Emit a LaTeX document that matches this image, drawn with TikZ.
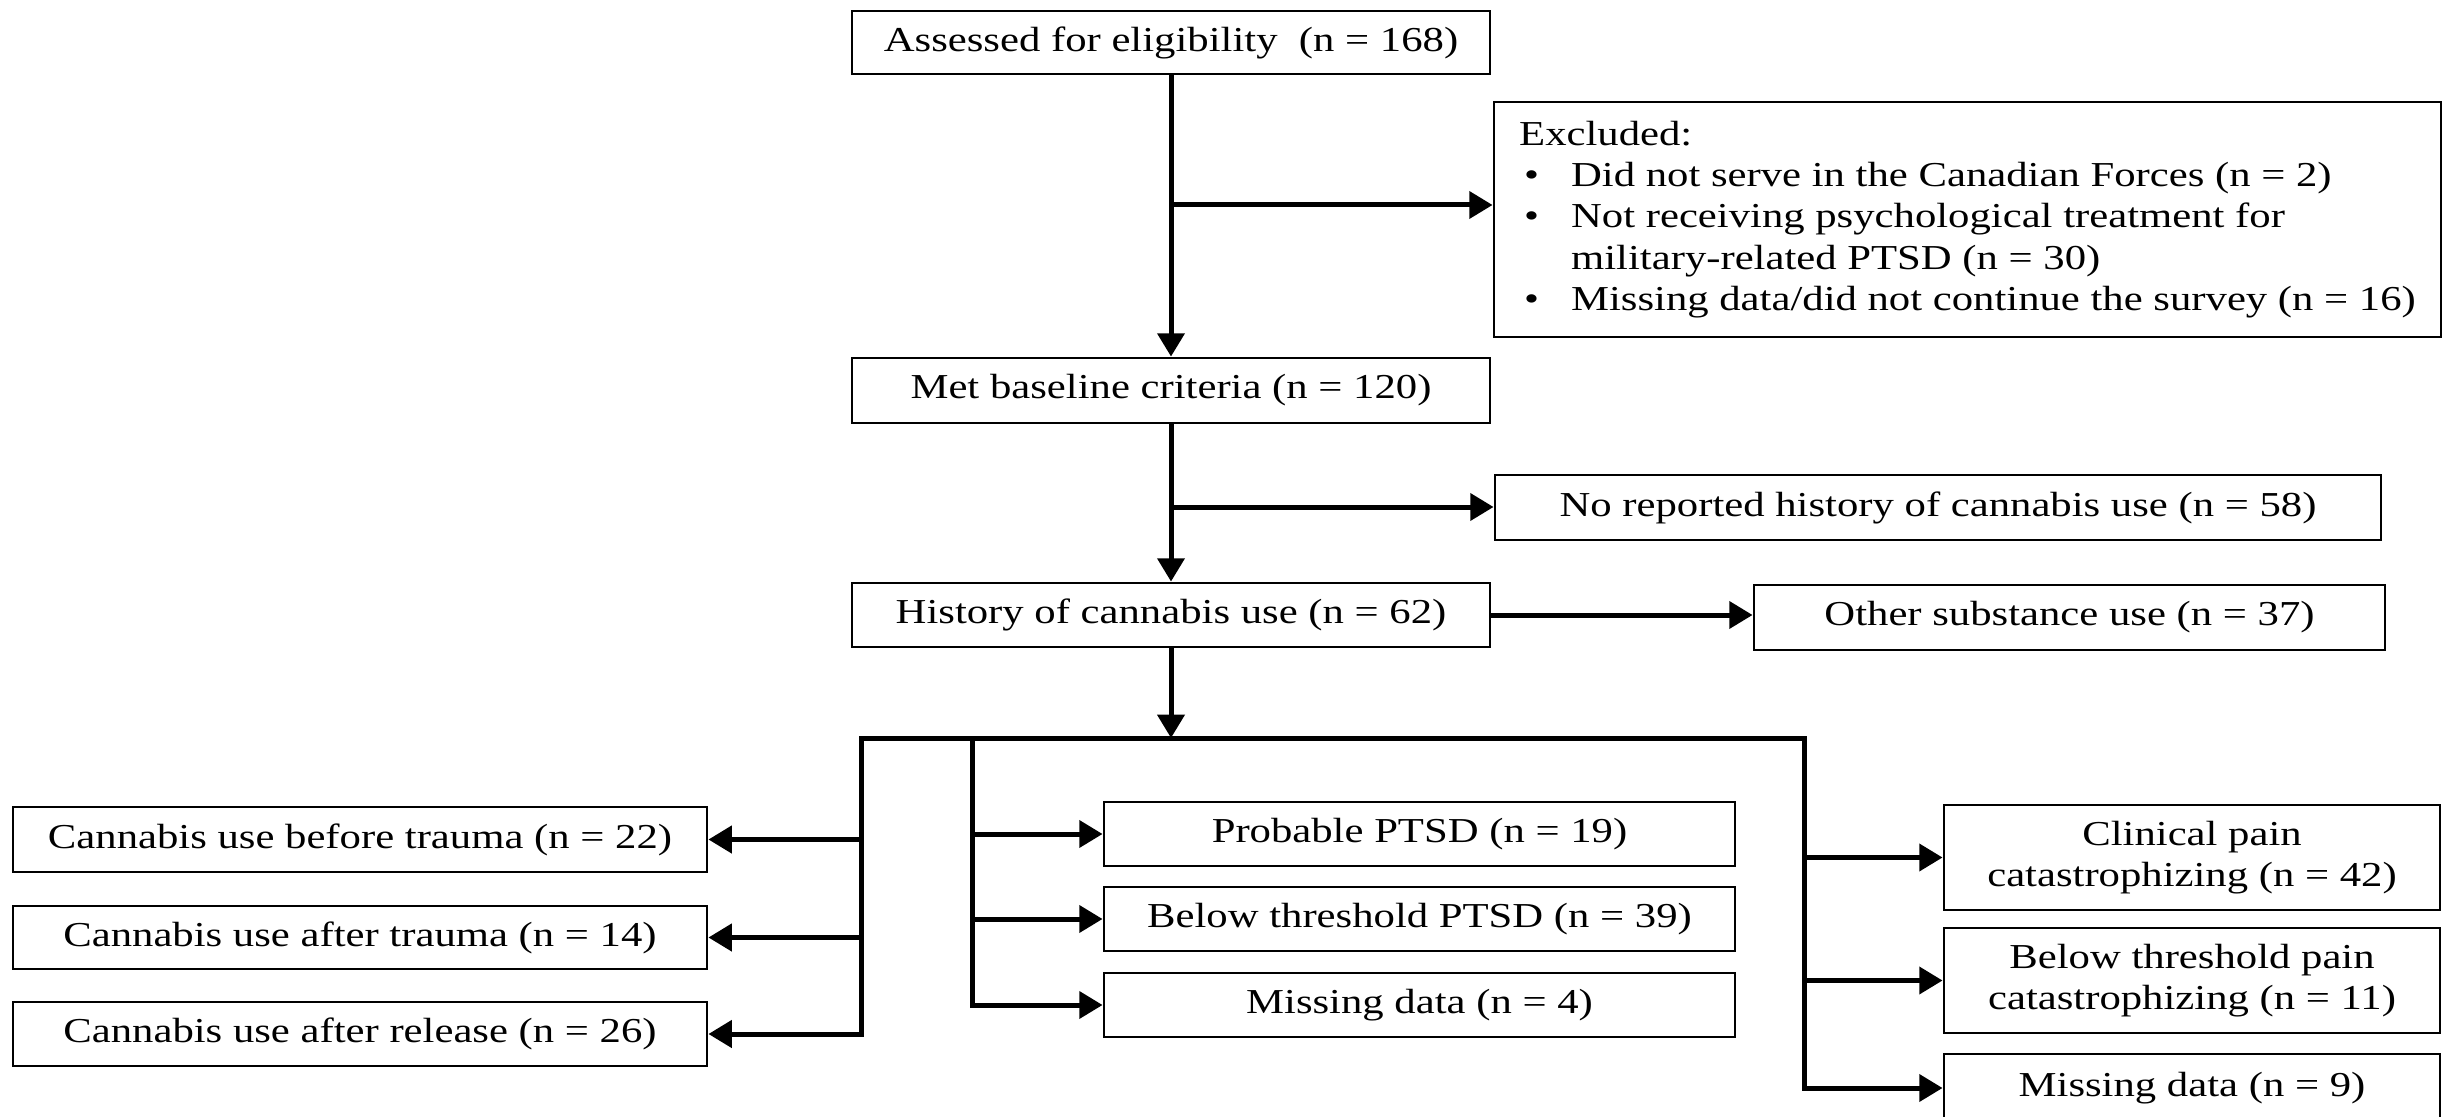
\documentclass[tikz,border=0pt]{standalone}
\usepackage{fontspec}
\setmainfont{Liberation Serif}[FakeStretch=1.22]
\usetikzlibrary{arrows.meta}
\newcommand\mybox[6]{\node[box, minimum width={(#4-#2)*0.3pt}, minimum height={(#5-#3)*0.3pt}] (#1) at ({(#2+#4)/2},{(#3+#5)/2}) {#6};}
\begin{document}
\begin{tikzpicture}[x=0.3pt,y=-0.3pt,
 box/.style={draw=black, line width=0.85pt, fill=white, inner sep=0pt, font=\fontsize{10.5}{12.4}\selectfont, align=center},
 ln/.style={line width=1.5pt, line cap=rect},
 arr/.style={line width=1.5pt, -{Triangle[length=7pt,width=8pt]}}]
\fill[white] (0,0) rectangle (2453,1117);
\useasboundingbox (0,0) rectangle (2453,1117);

\mybox{assessed}{852}{11}{1490}{74}{Assessed for eligibility\ \ (n = 168)}
\mybox{excl}{1494}{102}{2441}{337}{\begin{tabular}{@{}l@{\hspace{9.6pt}}l@{}}
\multicolumn{2}{@{}l}{Excluded:}\\
\hspace{1.5pt}\textbullet & Did not serve in the Canadian Forces (n = 2)\\
\hspace{1.5pt}\textbullet & Not receiving psychological treatment for\\
 & military-related PTSD (n = 30)\\
\hspace{1.5pt}\textbullet & Missing data/did not continue the survey (n = 16)
\end{tabular}}
\mybox{met}{852}{358}{1490}{423}{Met baseline criteria (n = 120)}
\mybox{noh}{1495}{475}{2381}{540}{No reported history of cannabis use (n = 58)}
\mybox{hist}{852}{583}{1490}{647}{History of cannabis use (n = 62)}
\mybox{other}{1754}{585}{2385}{650}{Other substance use (n = 37)}
\mybox{before}{13}{807}{707}{872}{Cannabis use before trauma (n = 22)}
\mybox{aftert}{13}{906}{707}{969}{Cannabis use after trauma (n = 14)}
\mybox{release}{13}{1002}{707}{1066}{Cannabis use after release (n = 26)}
\mybox{prob}{1104}{802}{1735}{866}{Probable PTSD (n = 19)}
\mybox{belowp}{1104}{887}{1735}{951}{Below threshold PTSD (n = 39)}
\mybox{miss4}{1104}{973}{1735}{1037}{Missing data (n = 4)}
\mybox{clin}{1944}{805}{2440}{910}{Clinical pain\\catastrophizing (n = 42)}
\mybox{belowc}{1944}{928}{2440}{1033}{Below threshold pain\\catastrophizing (n = 11)}
\mybox{miss9}{1944}{1054}{2440}{1122}{Missing data (n = 9)}

\coordinate (t1) at (1171,205);
\coordinate (t2) at (1171,507);
\coordinate (hc) at (1171,738);
\coordinate (cL) at (861,738);
\coordinate (cM) at (972,738);
\coordinate (cR) at (1804,738);

\draw[arr] (assessed.south) -- (met.north);
\draw[arr] (t1) -- (t1 -| excl.west);
\draw[arr] (met.south) -- (hist.north);
\draw[arr] (t2) -- (t2 -| noh.west);
\draw[arr] (hist.east) -- (hist.east -| other.west);
\draw[arr] (hist.south) -- (hc);
\draw[ln] (cL) -- (cR);

\draw[arr] (cL) |- (release.east);
\draw[arr] (cL |- before.east) -- (before.east);
\draw[arr] (cL |- aftert.east) -- (aftert.east);

\draw[arr] (cM) |- (miss4.west);
\draw[arr] (cM |- prob.west) -- (prob.west);
\draw[arr] (cM |- belowp.west) -- (belowp.west);

\draw[arr] (cR) |- (miss9.west);
\draw[arr] (cR |- clin.west) -- (clin.west);
\draw[arr] (cR |- belowc.west) -- (belowc.west);
\end{tikzpicture}
\end{document}
